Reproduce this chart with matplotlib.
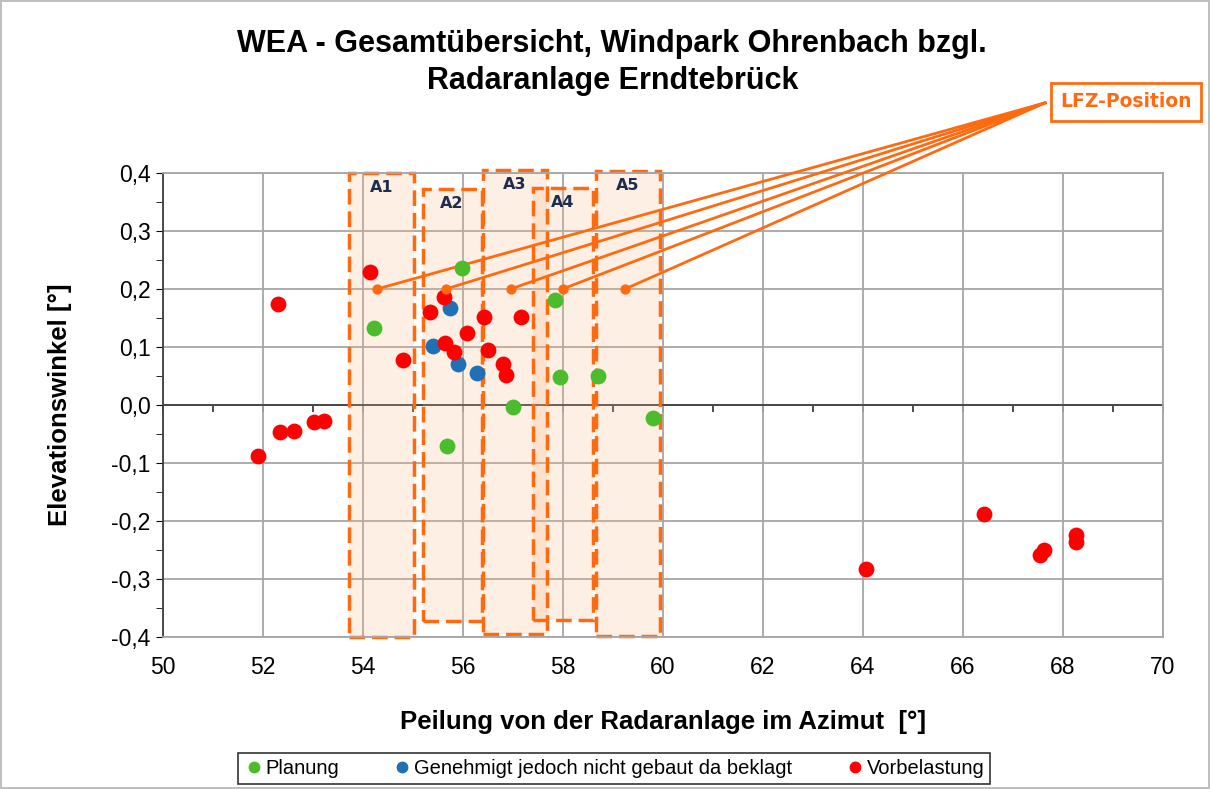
import matplotlib.pyplot as plt
from matplotlib.patches import Rectangle
from matplotlib.ticker import MultipleLocator, FuncFormatter, NullFormatter
from matplotlib.lines import Line2D

plt.rcParams['font.family'] = ['Liberation Sans', 'DejaVu Sans']

# Planung (green)
plan_x = [54.21, 55.97, 57.84, 57.93, 58.69, 56.99, 55.67, 59.79]
plan_y = [0.133, 0.237, 0.181, 0.048, 0.050, -0.004, -0.070, -0.023]

# Genehmigt jedoch nicht gebaut da beklagt (blue)
gen_x = [55.73, 55.39, 55.89, 56.27]
gen_y = [0.168, 0.102, 0.071, 0.056]

# Vorbelastung (red)
vor_x = [52.30, 51.90, 52.35, 52.62, 53.02, 53.22, 54.13, 54.79,
         55.33, 55.61, 55.64, 55.81, 56.07, 56.41, 56.49, 57.15, 56.79, 56.85,
         64.05, 66.41, 67.54, 67.61, 68.25, 68.25]
vor_y = [0.174, -0.088, -0.046, -0.044, -0.030, -0.028, 0.230, 0.077,
         0.160, 0.187, 0.107, 0.091, 0.125, 0.151, 0.094, 0.152, 0.071, 0.052,
         -0.283, -0.188, -0.259, -0.250, -0.224, -0.236]

# zones A1..A5
zone_names = ['A1', 'A2', 'A3', 'A4', 'A5']
zone_x0 = [53.73, 55.19, 56.39, 57.39, 58.66]
zone_x1 = [55.02, 56.37, 57.67, 58.60, 59.93]
zone_y0 = [-0.400, -0.372, -0.395, -0.370, -0.398]
zone_y1 = [0.400, 0.372, 0.405, 0.374, 0.404]

# LFZ positions
lfz_x = [54.28, 55.66, 56.95, 57.99, 59.24]
lfz_y = [0.2, 0.2, 0.2, 0.2, 0.2]

orange = '#FF6A10'
grid_c = '#A6A6A6'

fig = plt.figure(figsize=(12.10, 7.89), dpi=100)
fig.patch.set_edgecolor('#BFBFBF')
fig.patch.set_linewidth(1.5)
ax = fig.add_axes([0.1347, 0.1927, 0.8265, 0.588])

ax.set_xlim(50, 70)
ax.set_ylim(-0.4, 0.4)
ax.xaxis.set_major_locator(MultipleLocator(2))
ax.yaxis.set_major_locator(MultipleLocator(0.1))
ax.yaxis.set_minor_locator(MultipleLocator(0.05))
ax.grid(True, color=grid_c, lw=1.3, zorder=0)
ax.set_axisbelow(True)
ax.yaxis.set_major_formatter(FuncFormatter(lambda v, p: f'{v:.1f}'.replace('.', ',')))
ax.tick_params(axis='x', length=0, labelsize=16.5, pad=14)
ax.tick_params(axis='y', which='both', direction='out', length=5, labelsize=16.5, pad=4)
for s in ['top', 'right', 'bottom']:
    ax.spines[s].set_color(grid_c)
    ax.spines[s].set_linewidth(1.3)
ax.spines['left'].set_color('#404040')
ax.spines['left'].set_linewidth(1.3)

# x-axis line at y=0 with ticks
ax.axhline(0, color='#404040', lw=1.3, zorder=1)
sec = ax.secondary_xaxis(0.5)
sec.spines['bottom'].set_visible(False)
sec.spines['top'].set_visible(False)
sec.xaxis.set_ticks_position('bottom')
sec.xaxis.set_major_locator(MultipleLocator(1))
sec.xaxis.set_major_formatter(NullFormatter())
sec.tick_params(direction='out', length=5, width=1.3, color='#404040',
                labelbottom=False, labeltop=False)

# zones
for name, x0, x1, y0, y1 in zip(zone_names, zone_x0, zone_x1, zone_y0, zone_y1):
    ax.add_patch(Rectangle((x0, y0), x1 - x0, y1 - y0, facecolor=(0.98, 0.72, 0.5, 0.22),
                           edgecolor='none', zorder=1, clip_on=False))
    ax.add_patch(Rectangle((x0, y0), x1 - x0, y1 - y0, facecolor='none',
                           edgecolor=orange, lw=2.5, linestyle=(0, (4.5, 2)), zorder=2, clip_on=False))
    ax.text((x0 + x1) / 2, y1 - 0.025, name, ha='center', va='center', fontsize=11.5,
            fontweight='bold', color='#1F2D4D', zorder=5, family='DejaVu Sans')

ms = 130
ax.scatter(plan_x, plan_y, s=ms, color='#4CBB2C', zorder=4, linewidths=0)
ax.scatter(gen_x, gen_y, s=ms, color='#1F70B5', zorder=4, linewidths=0)
ax.scatter(vor_x, vor_y, s=ms, color='#FF0000', zorder=4, linewidths=0)

# LFZ lines to label
lab_x, lab_y = 67.64, 0.521
for x, y in zip(lfz_x, lfz_y):
    ax.plot([x, lab_x], [y, lab_y], color=orange, lw=2, zorder=3, clip_on=False)
ax.scatter(lfz_x, lfz_y, s=55, color=orange, zorder=5, linewidths=0)
fig.text(0.9305, 0.871, 'LFZ-Position', ha='center', va='center', fontsize=13.5,
         fontweight='bold', color=orange, family='DejaVu Sans',
         bbox=dict(boxstyle='square,pad=0.5', facecolor='white', edgecolor=orange, lw=2))

fig.text(0.506, 0.921, 'WEA - Gesamtübersicht, Windpark Ohrenbach bzgl.\nRadaranlage Erndtebrück',
         ha='center', va='center', fontsize=22, fontweight='bold', linespacing=1.3)
ax.set_xlabel('Peilung von der Radaranlage im Azimut  [°]', fontsize=18.5, fontweight='bold', labelpad=22)
ax.set_ylabel('Elevationswinkel [°]', fontsize=18.5, fontweight='bold', labelpad=28)

handles = [Line2D([], [], marker='o', ls='', color=c, markersize=7.5)
           for c in ['#4CBB2C', '#1F70B5', '#FF0000']]
leg = fig.legend(handles, ['Planung', 'Genehmigt jedoch nicht gebaut da beklagt', 'Vorbelastung'],
                 loc='center', bbox_to_anchor=(0.5074, 0.0265), ncol=3, fontsize=14.5,
                 frameon=True, fancybox=False, edgecolor='black', handletextpad=0.1,
                 columnspacing=2.6, borderpad=0.3, handlelength=1.0)
leg.get_frame().set_linewidth(1.2)

fig.savefig('out.png', dpi=100)
